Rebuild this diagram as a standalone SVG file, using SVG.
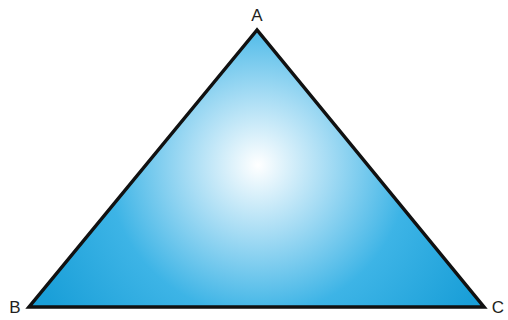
<svg xmlns="http://www.w3.org/2000/svg" width="508" height="320" viewBox="0 0 508 320">
<defs>
<radialGradient id="g" gradientUnits="userSpaceOnUse" cx="258" cy="165" r="250">
<stop offset="0" stop-color="#ffffff"/>
<stop offset="0.28" stop-color="#a6dcf4"/>
<stop offset="0.6" stop-color="#3db4e6"/>
<stop offset="1" stop-color="#1a9fd8"/>
</radialGradient>
<style>
.lbl{font-family:"Liberation Sans",Arial,sans-serif;font-size:17px;fill:#231f20}
</style>
</defs>
<g id="triangle">
<polygon points="257,30 29,307 484,307" fill="url(#g)" stroke="#111" stroke-width="3.5" stroke-linejoin="miter"/>
</g>
<g id="labels">
<text class="lbl" x="257" y="21" text-anchor="middle">A</text>
<text class="lbl" x="15" y="313" text-anchor="middle">B</text>
<text class="lbl" x="498" y="313" text-anchor="middle">C</text>
</g>
</svg>
